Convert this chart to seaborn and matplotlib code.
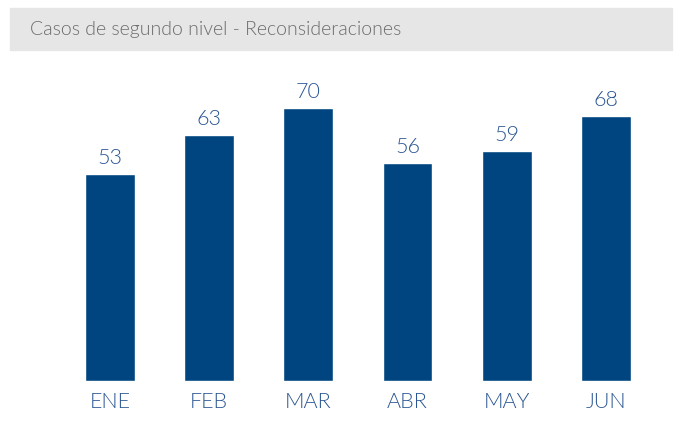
import matplotlib
matplotlib.use("Agg")
import matplotlib.pyplot as plt
import seaborn as sns
import pandas as pd
from matplotlib.patches import Rectangle

# data
meses = ["ENE", "FEB", "MAR", "ABR", "MAY", "JUN"]
casos = [53, 63, 70, 56, 59, 68]
titulo = "Casos de segundo nivel - Reconsideraciones"

df = pd.DataFrame({"mes": meses, "casos": casos})

sns.set_style("white")
plt.rcParams["font.family"] = ["Lato", "DejaVu Sans"]

bar_color = "#00457f"
text_color = "#2a5592"

fig = plt.figure(figsize=(6.75, 4.24), dpi=100)
ax = fig.add_axes([0.0895, 0.1014, 0.8815, 0.7358])

sns.barplot(x="mes", y="casos", data=df, color=bar_color, width=0.504,
            saturation=1, ax=ax)

for i, v in enumerate(casos):
    ax.text(i, v + 1.5, str(v), ha="center", va="bottom", fontsize=15.5,
            color=text_color, fontweight=300)

ax.set_xlim(-0.5, 5.5)
ax.set_ylim(0, 80)
ax.set_xlabel("")
ax.set_ylabel("")
ax.set_yticks([])
ax.tick_params(axis="x", length=0, pad=8)
for lbl in ax.get_xticklabels():
    lbl.set_fontsize(15.5)
    lbl.set_color(text_color)
    lbl.set_fontweight(300)
sns.despine(ax=ax, left=True, bottom=True)

# grey title band
fig.patches.append(Rectangle((10 / 675, 1 - 50 / 424), 662 / 675, 42 / 424,
                             transform=fig.transFigure, color="#e6e6e6", zorder=0))
fig.text(30 / 675, 1 - 30 / 424, titulo, fontsize=14, color="#6b6b6b",
         va="center", ha="left", fontweight=300)

fig.savefig("out.png", dpi=100)
